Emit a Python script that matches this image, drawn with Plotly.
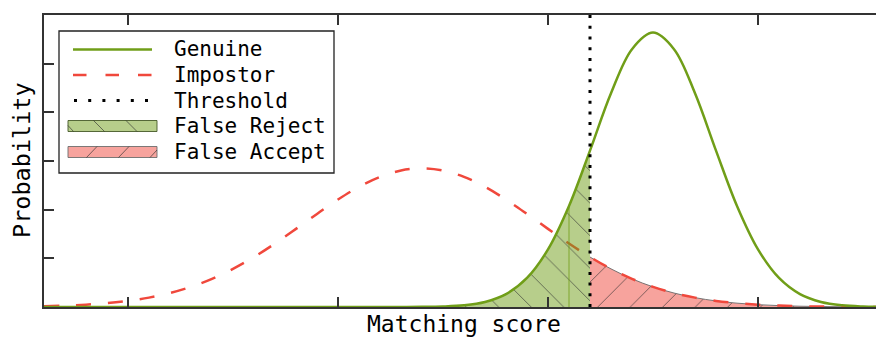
import plotly.graph_objects as go

# ---- data -----------------------------------------------------------------
# Matching scores, sampled every half point
score = [-2.0, -1.5, -1.0, -0.5, 0.0, 0.5, 1.0, 1.5, 2.0, 2.5, 3.0, 3.5, 4.0, 4.5,
         5.0, 5.5, 6.0, 6.5, 7.0, 7.5, 8.0, 8.5, 9.0, 9.5, 10.0, 10.5, 11.0, 11.5,
         12.0, 12.5, 13.0, 13.5, 14.0, 14.5, 15.0, 15.5, 16.0, 16.5, 17.0, 17.5, 18.0]

# Probability of each score for genuine attempts
genuine = [0, 0, 0, 0, 0, 0, 0, 0, 0, 0, 0, 0, 0, 0, 0, 0,
           0.0, 0.00004, 0.00015, 0.00055, 0.00179, 0.00518, 0.01323, 0.02980,
           0.05920, 0.10380, 0.16070, 0.21960, 0.26490, 0.28190, 0.26490, 0.21960,
           0.16070, 0.10380, 0.05920, 0.02980, 0.01323, 0.00518, 0.00179, 0.00055,
           0.00015]

# Probability of each score for impostor attempts
impostor = [0.00081, 0.00142, 0.00240, 0.00394, 0.00626, 0.00963, 0.01434, 0.02070,
            0.02893, 0.03917, 0.05136, 0.06523, 0.08026, 0.09564, 0.11039, 0.12344,
            0.13368, 0.14023, 0.14248, 0.14023, 0.13368, 0.12344, 0.11039, 0.09564,
            0.08026, 0.06523, 0.05136, 0.03917, 0.02893, 0.02070, 0.01434, 0.00963,
            0.00626, 0.00394, 0.00240, 0.00142, 0.00081, 0.00045, 0.00024, 0.00013,
            0.00006]

threshold = 11.0
seam = 10.5

x_ticks = [0, 5, 10, 15]
y_ticks = [0, 0.05, 0.10, 0.15, 0.20, 0.25, 0.30]

legend_labels = ["Genuine", "Impostor", "Threshold", "False Reject", "False Accept"]

# ---- styles ---------------------------------------------------------------
GREEN = "rgb(112,158,24)"
GREEN_FILL = "rgba(112,158,24,0.5)"
RED = "rgb(240,72,60)"
RED_FILL = "rgba(240,72,60,0.5)"
HATCH = "rgba(45,45,45,0.75)"
FONT = "DejaVu Sans Mono"
AXIS = "#333333"

fig = go.Figure()

# False accept: impostor scores above the threshold
fa_s = [s for s in score if s >= threshold]
fa_p = [p for s, p in zip(score, impostor) if s >= threshold]
fig.add_trace(go.Scatter(
    x=fa_s, y=fa_p, mode="lines",
    line=dict(color="rgba(105,105,105,0.9)", width=1, shape="spline"),
    fill="tozeroy", fillcolor=RED_FILL,
    fillpattern=dict(shape="/", size=23, solidity=0.035, fgcolor=HATCH,
                     bgcolor=RED_FILL, fillmode="replace"),
    hoverinfo="skip", showlegend=False))

# Impostor distribution
fig.add_trace(go.Scatter(
    x=score, y=impostor, mode="lines",
    line=dict(color=RED, width=2.5, dash="15px,17px", shape="spline"),
    hoverinfo="skip", showlegend=False))

# False reject: genuine scores below the threshold
fr_s = [s for s in score if s <= threshold]
fr_p = [p for s, p in zip(score, genuine) if s <= threshold]
fig.add_trace(go.Scatter(
    x=fr_s, y=fr_p, mode="lines",
    line=dict(color="rgba(0,0,0,0)", width=0, shape="spline"),
    fill="tozeroy", fillcolor=GREEN_FILL,
    fillpattern=dict(shape="\\", size=23, solidity=0.035, fgcolor=HATCH,
                     bgcolor=GREEN_FILL, fillmode="replace"),
    hoverinfo="skip", showlegend=False))

# thin seam inside the false-reject area
seam_p = genuine[score.index(seam)]
fig.add_trace(go.Scatter(
    x=[seam, seam], y=[0, seam_p], mode="lines",
    line=dict(color="rgba(112,158,24,0.8)", width=1),
    hoverinfo="skip", showlegend=False))

# Genuine distribution
fig.add_trace(go.Scatter(
    x=score, y=genuine, mode="lines",
    line=dict(color=GREEN, width=2.5, shape="spline"),
    hoverinfo="skip", showlegend=False))

# Decision threshold
fig.add_vline(x=threshold, line=dict(color="black", width=3, dash="3px,7.7px"))

# ---- legend box -------------------------------------------------------------
L, B, W, H = 44, 307, 832, 292          # plot area in pixels


def px(xp):
    return (xp - L) / W


def py(yp):
    return (B - yp) / H


shapes = []
shapes.append(dict(type="rect", xref="paper", yref="paper",
                   x0=px(59), x1=px(334), y0=py(173), y1=py(31),
                   line=dict(color="#222222", width=1.3), fillcolor="white",
                   layer="above"))

rows = [49.5, 75, 100.5, 126, 152]
sx0, sx1 = px(73), px(152)
shapes.append(dict(type="line", xref="paper", yref="paper", x0=sx0, x1=sx1,
                   y0=py(rows[0]), y1=py(rows[0]),
                   line=dict(color=GREEN, width=2.5), layer="above"))
shapes.append(dict(type="line", xref="paper", yref="paper", x0=sx0, x1=sx1,
                   y0=py(rows[1]), y1=py(rows[1]),
                   line=dict(color=RED, width=2.5, dash="13.5px,19px"), layer="above"))
shapes.append(dict(type="line", xref="paper", yref="paper", x0=px(74), x1=sx1,
                   y0=py(rows[2]), y1=py(rows[2]),
                   line=dict(color="black", width=3, dash="3px,11.2px"), layer="above"))

# filled patches
for (row, fill, edge) in [(rows[3], GREEN_FILL, "rgba(70,90,40,0.9)"),
                          (rows[4], RED_FILL, "rgba(110,110,110,0.9)")]:
    shapes.append(dict(type="rect", xref="paper", yref="paper",
                       x0=px(68), x1=px(157), y0=py(row + 5.5), y1=py(row - 5.5),
                       line=dict(color=edge, width=1), fillcolor=fill, layer="above"))

# hatch strokes on the patches
hatch_fr = [((68, 125.5), (73.5, 131.5)), ((93.5, 120.5), (104.5, 131.5)),
            ((126, 120.5), (137, 131.5))]
hatch_fa = [((86.5, 157.5), (97, 146.5)), ((118.5, 157.5), (129, 146.5)),
            ((150, 157.5), (157, 150))]
for (a, b) in hatch_fr + hatch_fa:
    shapes.append(dict(type="line", xref="paper", yref="paper",
                       x0=px(a[0]), y0=py(a[1]), x1=px(b[0]), y1=py(b[1]),
                       line=dict(color="rgba(45,45,45,0.8)", width=0.8), layer="above"))

annotations = []
for label, row in zip(legend_labels, rows):
    annotations.append(dict(text=label, xref="paper", yref="paper",
                            x=px(172), y=py(row), xanchor="left", yanchor="middle",
                            showarrow=False, font=dict(family=FONT, size=21, color="black")))

# axis titles
annotations.append(dict(text="Matching score", xref="paper", yref="paper",
                        x=px(464), y=py(339), xanchor="center", yanchor="bottom",
                        showarrow=False, font=dict(family=FONT, size=23, color="black")))
annotations.append(dict(text="Probability", xref="paper", yref="paper",
                        x=px(22), y=py(160), xanchor="center", yanchor="middle",
                        textangle=-90, showarrow=False,
                        font=dict(family=FONT, size=23.5, color="black")))

fig.update_layout(
    width=876, height=340,
    margin=dict(l=44, r=0, t=15, b=33),
    paper_bgcolor="white", plot_bgcolor="white",
    shapes=fig.layout.shapes + tuple(shapes),
    annotations=annotations,
    showlegend=False,
    xaxis=dict(range=[-2, -2 + 832 / 42], tickvals=x_ticks, showticklabels=False,
               ticks="inside", ticklen=10, tickwidth=1.5, tickcolor=AXIS,
               showline=True, linecolor=AXIS, linewidth=2, mirror="ticks",
               showgrid=False, zeroline=False, fixedrange=True),
    yaxis=dict(range=[0, 0.3], tickvals=y_ticks, showticklabels=False,
               ticks="inside", ticklen=10, tickwidth=1.5, tickcolor=AXIS,
               showline=True, linecolor=AXIS, linewidth=2, mirror=False,
               showgrid=False, zeroline=False, fixedrange=True),
)

fig.write_html("out.html", config={"displayModeBar": False})
